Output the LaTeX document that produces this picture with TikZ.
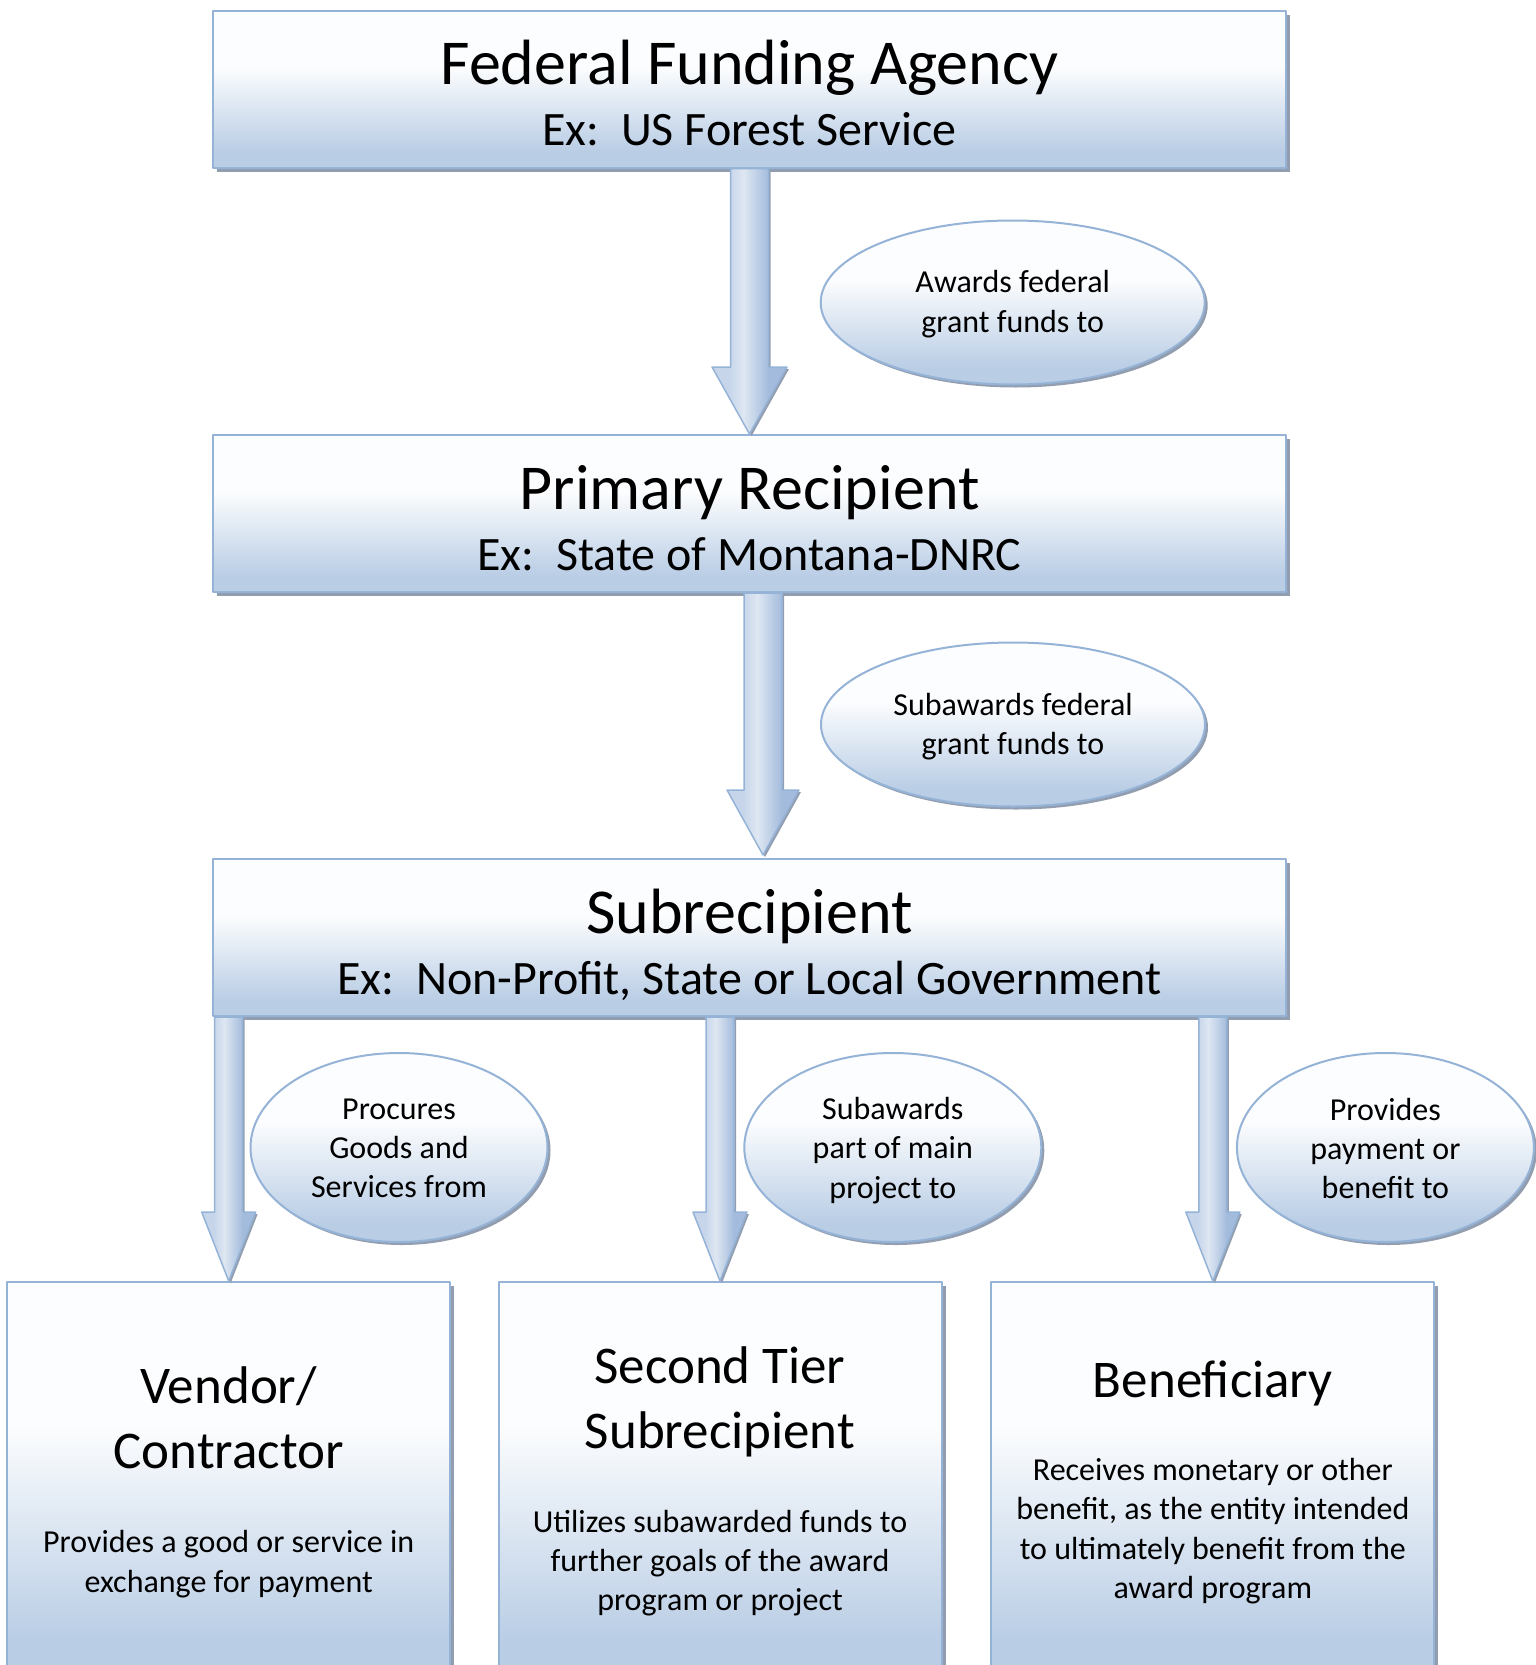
\documentclass[tikz,border=0pt]{standalone}
\usepackage{fontspec}
\setmainfont{Carlito}
\usetikzlibrary{calc,shapes.geometric,shadows}

\definecolor{boxblue}{RGB}{185,205,229}
\definecolor{boxwhite}{RGB}{252,253,254}
\definecolor{edgeblue}{RGB}{149,179,215}
\definecolor{shadowgray}{RGB}{146,158,175}
\definecolor{arrlight}{RGB}{222,231,242}
\definecolor{arrmid}{RGB}{198,213,234}
\definecolor{arrdark}{RGB}{163,187,220}

% svisly prechod: dole modra, nahore bila (stred 25bp--75bp = cely tvar)
\pgfdeclareverticalshading{boxgrad}{100bp}{color(0bp)=(boxblue); color(30bp)=(boxblue); color(57bp)=(boxwhite); color(100bp)=(boxwhite)}
\pgfdeclarehorizontalshading{arrgrad}{100bp}{color(0bp)=(arrmid); color(36bp)=(arrmid); color(46bp)=(arrlight); color(63bp)=(arrdark); color(100bp)=(arrdark)}

\tikzset{
  box/.style={rectangle, draw=edgeblue, line width=2pt, shade, shading=boxgrad,
    drop shadow={shadow xshift=4pt, shadow yshift=-4pt, fill=shadowgray, opacity=1}},
  oval/.style={ellipse, draw=edgeblue, line width=2pt, shade, shading=boxgrad, inner sep=0pt,
    align=center, font=\fontsize{32}{39.3}\selectfont,
    drop shadow={shadow xshift=3pt, shadow yshift=-3pt, fill=shadowgray, opacity=1}},
  arrowbody/.style={draw=edgeblue, line width=1.5pt, shade, shading=arrgrad,
    drop shadow={shadow xshift=2pt, shadow yshift=-2pt, fill=shadowgray, opacity=1}},
  ttl/.style={font=\fontsize{64}{78}\selectfont, anchor=base},
  extxt/.style={font=\fontsize{48}{58}\selectfont, anchor=base},
  bigttl/.style={font=\fontsize{53}{65}\selectfont, align=center},
  bodytxt/.style={font=\fontsize{32}{39.3}\selectfont, align=center}
}

% #1 zacatek, #2 spicka, #3 pul sirky driku, #4 pul sirky hlavy, #5 delka hlavy
\newcommand{\fatarrow}[5]{%
  \path[arrowbody] ($(#1)+(-#3,0)$) -- ($(#2)+(-#3,-#5)$) -- ($(#2)+(-#4,-#5)$) -- (#2)
    -- ($(#2)+(#4,-#5)$) -- ($(#2)+(#3,-#5)$) -- ($(#1)+(#3,0)$) -- cycle;}

\begin{document}
\begin{tikzpicture}[x=1pt,y=-1pt,line join=round]
  \useasboundingbox (0,0) rectangle (1535,1665);

  % tri hlavni urovne
  \node[box, minimum width=1073pt, minimum height=157pt] (fed) at (749.5,89) {};
  \node[box, minimum width=1073pt, minimum height=157pt] (prim) at (749.5,513.5) {};
  \node[box, minimum width=1073pt, minimum height=157pt] (sub) at (749.5,937.5) {};

  % spodni rada
  \node[box, minimum width=443pt, minimum height=400pt] (vend) at (228.7,1482) {};
  \node[box, minimum width=443pt, minimum height=400pt] (tier) at (720,1482) {};
  \node[box, minimum width=443pt, minimum height=400pt] (bene) at (1212.8,1482) {};

  % sipky
  \coordinate (a2s) at ($(prim.south)+(13.5,0)$);
  \coordinate (a2t) at ($(sub.north)+(13.5,-3)$);
  \coordinate (a3s) at (vend.north |- sub.south);
  \coordinate (a4s) at (tier.north |- sub.south);
  \coordinate (a5s) at (bene.north |- sub.south);

  \fatarrow{fed.south}{prim.north}{19}{37.5}{67}
  \fatarrow{a2s}{a2t}{19}{36}{65}
  \fatarrow{a3s}{vend.north}{14}{27}{69}
  \fatarrow{a4s}{tier.north}{14}{27}{69}
  \fatarrow{a5s}{bene.north}{14}{27}{69}

  % popisky vztahu
  \node[oval, minimum width=384pt, minimum height=164pt] (awd) at (1012.7,302.5) {};
  \node[bodytxt] (awdT) at (1012.7,304) {Awards federal\\grant funds to};
  \node[oval, minimum width=384pt, minimum height=164pt] (subawd) at (1013,724.5) {};
  \node[bodytxt] (subawdT) at (1013,726.5) {Subawards federal\\grant funds to};
  \node[oval, minimum width=297pt, minimum height=189pt] (proc) at (399,1147.5) {};
  \node[bodytxt] (procT) at (399,1148.5) {Procures\\Goods and\\Services from};
  \node[oval, minimum width=297pt, minimum height=189pt] (part) at (892.8,1147.5) {};
  \node[bodytxt] (partT) at (892.8,1150.5) {Subawards\\part of main\\project to};
  \node[oval, minimum width=297pt, minimum height=189pt] (pay) at (1385.4,1147.5) {};
  \node[bodytxt] (payT) at (1385.4,1148.5) {Provides\\payment or\\benefit to};

  % texty v boxech
  \node[ttl] (fedT) at (749.5,84) {Federal Funding Agency};
  \node[extxt] (fedE) at (749.5,145.5) {Ex:\ \ US Forest Service};
  \node[ttl] (primT) at (749.5,509) {Primary Recipient};
  \node[extxt] (primE) at (749.5,570) {Ex:\ \ State of Montana-DNRC};
  \node[ttl] (subT) at (749.5,933) {Subrecipient};
  \node[extxt] (subE) at (749.5,994) {Ex:\ \ Non-Profit, State or Local Government};

  \node[bigttl] (vendT) at (228.7,1417.5) {Vendor/\\Contractor};
  \node[bodytxt] (vendB) at (228.7,1564.2) {Provides a good or service in\\exchange for payment};
  \node[bigttl] (tierT) at (720,1402) {Second Tier\\Subrecipient};
  \node[bodytxt] (tierB) at (720,1563.2) {Utilizes subawarded funds to\\further goals of the award\\program or project};
  \node[bigttl] (beneT) at (1212.8,1383.2) {Beneficiary};
  \node[bodytxt] (beneB) at (1212.8,1531.2) {Receives monetary or other\\benefit, as the entity intended\\to ultimately benefit from the\\award program};
\end{tikzpicture}
\end{document}
